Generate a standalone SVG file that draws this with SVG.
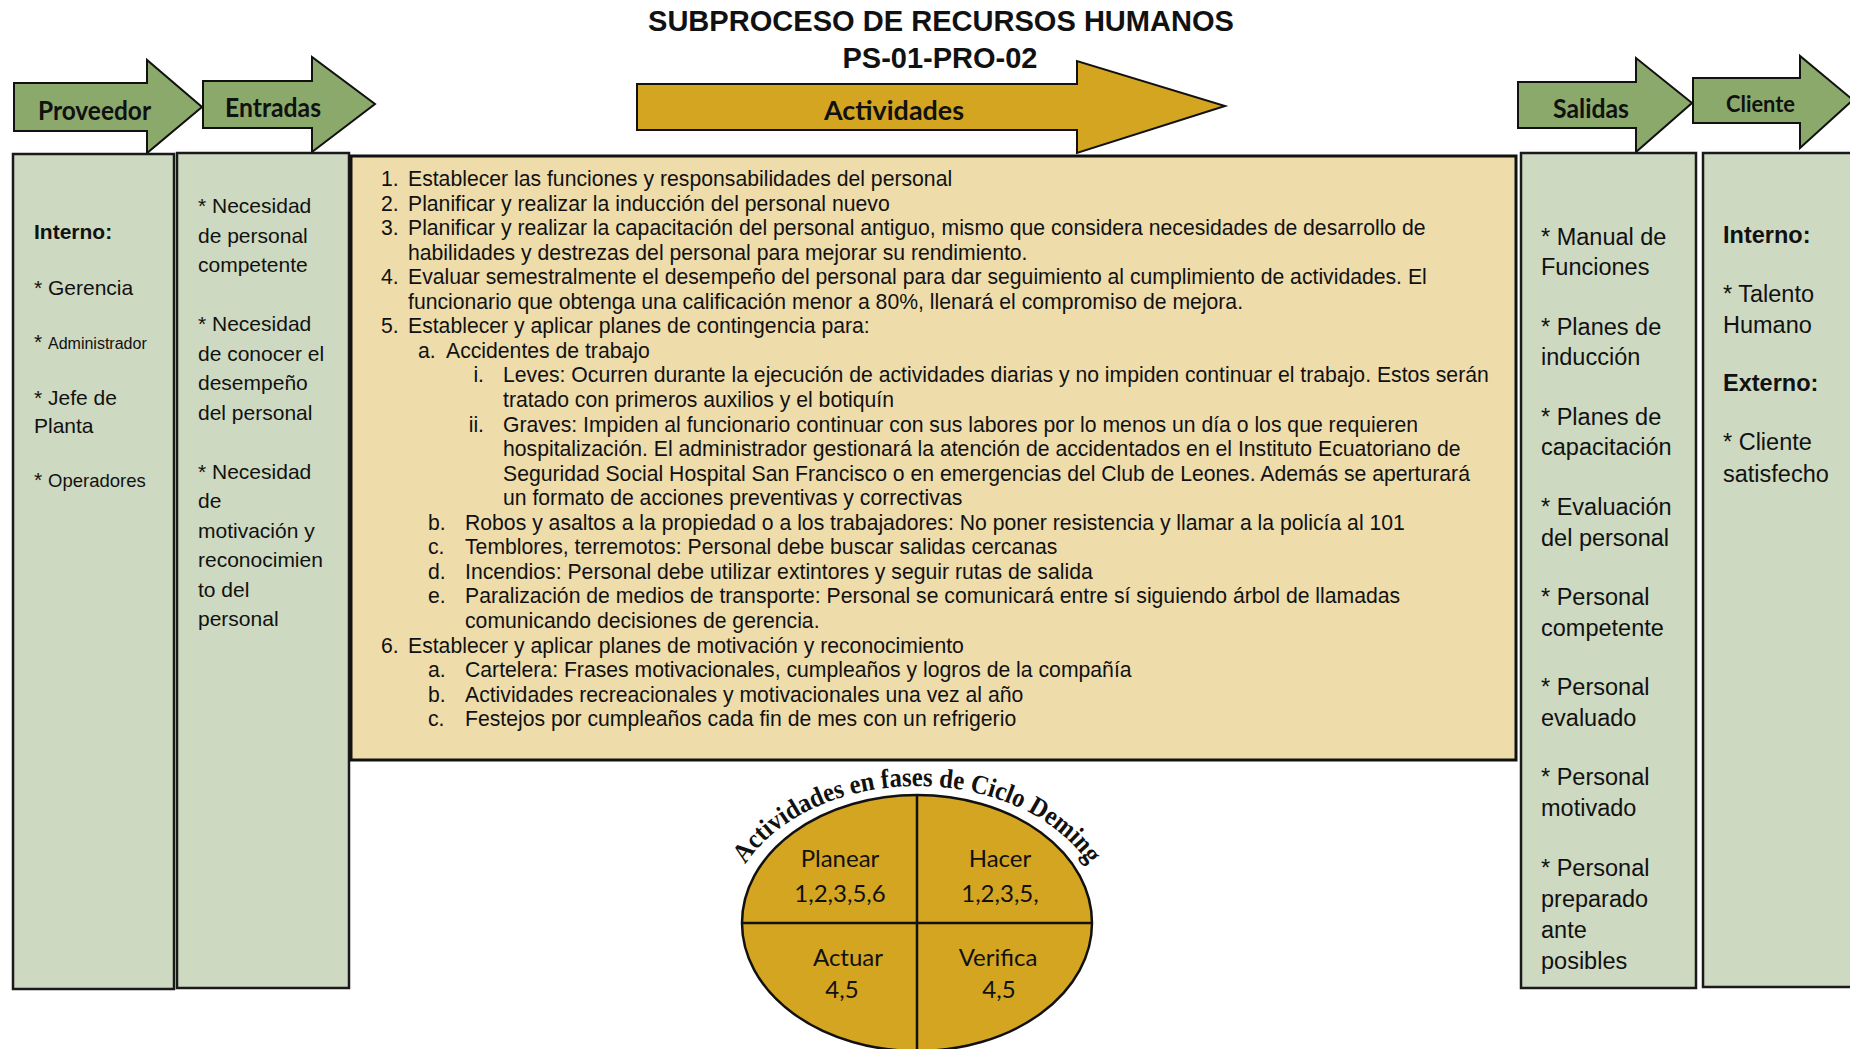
<svg xmlns="http://www.w3.org/2000/svg" width="1850" height="1049" viewBox="0 0 1850 1049">
<defs>
<style>
.arrowG{fill:#8aa96b;stroke:#111;stroke-width:2;stroke-linejoin:miter}
.arrowY{fill:#d4a520;stroke:#111;stroke-width:2}
.box{fill:#cdd9c0;stroke:#1a1a1a;stroke-width:2.5}
.ybox{fill:#eedcab;stroke:#111;stroke-width:3}
.lbl{font-family:Lato,"Liberation Sans",sans-serif;font-weight:bold;fill:#111}
.title{font-family:"Liberation Sans",Arial,sans-serif;font-weight:bold;font-size:29px;fill:#111;text-anchor:middle}
.t21{font-family:"Liberation Sans",Arial,sans-serif;font-size:21px;fill:#111}
.t23{font-family:"Liberation Sans",Arial,sans-serif;font-size:23.5px;fill:#111}
.b{font-weight:bold}
.act{font-family:"Liberation Sans",Arial,sans-serif;font-size:21.2px;fill:#111}
.dem{font-family:Lato,"Liberation Sans",sans-serif;font-size:24px;fill:#111;text-anchor:middle}
.arc{font-family:"Liberation Serif","Times New Roman",serif;font-weight:bold;font-size:27px;fill:#111}
</style>
<path id="arcPath" d="M 744.9 865 A 190 137 0 0 1 1089.1 865"/>
</defs>
<rect width="1850" height="1049" fill="#fff"/>

<g id="title">
<text class="title" x="941" y="31" textLength="586" lengthAdjust="spacingAndGlyphs">SUBPROCESO DE RECURSOS HUMANOS</text>
<text class="title" x="940" y="68">PS-01-PRO-02</text>
</g>

<g id="arrow-proveedor">
<polygon class="arrowG" points="14,83 147,83 147,60 202,107 147,153 147,131 14,131"/>
<text class="lbl" x="38" y="120" font-size="26" textLength="113" lengthAdjust="spacingAndGlyphs">Proveedor</text>
</g>
<g id="arrow-entradas">
<polygon class="arrowG" points="203,81 312,81 312,57 375,104 312,152 312,128 203,128"/>
<text class="lbl" x="225" y="117" font-size="26" textLength="96" lengthAdjust="spacingAndGlyphs">Entradas</text>
</g>
<g id="arrow-actividades">
<polygon class="arrowY" points="637,84 1077,84 1077,61 1225,106 1077,153 1077,130 637,130"/>
<text class="lbl" x="824" y="120" font-size="26" textLength="140" lengthAdjust="spacingAndGlyphs">Actividades</text>
</g>
<g id="arrow-salidas">
<polygon class="arrowG" points="1518,82 1636,82 1636,58 1692,103 1636,152 1636,128 1518,128"/>
<text class="lbl" x="1553" y="118" font-size="26" textLength="76" lengthAdjust="spacingAndGlyphs">Salidas</text>
</g>
<g id="arrow-cliente">
<polygon class="arrowG" points="1693,78 1800,78 1800,56 1853,100 1800,148 1800,123 1693,123"/>
<text class="lbl" x="1726" y="112" font-size="22" textLength="69" lengthAdjust="spacingAndGlyphs">Cliente</text>
</g>

<g id="box-proveedor">
<rect class="box" x="13" y="154" width="161" height="835"/>
<text class="t21 b" x="34" y="239">Interno:</text>
<text class="t21" x="34" y="295">* Gerencia</text>
<text class="t21" x="34" y="349">* <tspan font-size="16">Administrador</tspan></text>
<text class="t21" x="34" y="405">* Jefe de</text>
<text class="t21" x="34" y="433">Planta</text>
<text class="t21" x="34" y="487">* <tspan font-size="18.5">Operadores</tspan></text>
</g>

<g id="box-entradas">
<rect class="box" x="177" y="153" width="172" height="835"/>
<text class="t21" x="198">
<tspan x="198" y="213">* Necesidad</tspan>
<tspan x="198" y="242.5">de personal</tspan>
<tspan x="198" y="272">competente</tspan>
<tspan x="198" y="331">* Necesidad</tspan>
<tspan x="198" y="360.5">de conocer el</tspan>
<tspan x="198" y="390">desempeño</tspan>
<tspan x="198" y="419.5">del personal</tspan>
<tspan x="198" y="478.5">* Necesidad</tspan>
<tspan x="198" y="508">de</tspan>
<tspan x="198" y="537.5">motivación y</tspan>
<tspan x="198" y="567">reconocimien</tspan>
<tspan x="198" y="596.5">to del</tspan>
<tspan x="198" y="626">personal</tspan>
</text>
</g>

<g id="box-actividades">
<rect class="ybox" x="351" y="156" width="1165" height="604"/>
<g class="act">
<text x="381" y="186">1.</text><text x="408" y="186">Establecer las funciones y responsabilidades del personal</text>
<text x="381" y="210.5">2.</text><text x="408" y="210.5">Planificar y realizar la inducción del personal nuevo</text>
<text x="381" y="235">3.</text><text x="408" y="235">Planificar y realizar la capacitación del personal antiguo, mismo que considera necesidades de desarrollo de</text>
<text x="408" y="259.6">habilidades y destrezas del personal para mejorar su rendimiento.</text>
<text x="381" y="284.2">4.</text><text x="408" y="284.2">Evaluar semestralmente el desempeño del personal para dar seguimiento al cumplimiento de actividades. El</text>
<text x="408" y="308.8">funcionario que obtenga una calificación menor a 80%, llenará el compromiso de mejora.</text>
<text x="381" y="333.3">5.</text><text x="408" y="333.3">Establecer y aplicar planes de contingencia para:</text>
<text x="418" y="357.9">a.</text><text x="446" y="357.9">Accidentes de trabajo</text>
<text x="484" y="382.4" text-anchor="end">i.</text><text x="503" y="382.4">Leves: Ocurren durante la ejecución de actividades diarias y no impiden continuar el trabajo. Estos serán</text>
<text x="503" y="407">tratado con primeros auxilios y el botiquín</text>
<text x="484" y="431.5" text-anchor="end">ii.</text><text x="503" y="431.5">Graves: Impiden al funcionario continuar con sus labores por lo menos un día o los que requieren</text>
<text x="503" y="456">hospitalización. El administrador gestionará la atención de accidentados en el Instituto Ecuatoriano de</text>
<text x="503" y="480.6">Seguridad Social Hospital San Francisco o en emergencias del Club de Leones. Además se aperturará</text>
<text x="503" y="505.2">un formato de acciones preventivas y correctivas</text>
<text x="428" y="529.7">b.</text><text x="465" y="529.7">Robos y asaltos a la propiedad o a los trabajadores: No poner resistencia y llamar a la policía al 101</text>
<text x="428" y="554.3">c.</text><text x="465" y="554.3">Temblores, terremotos: Personal debe buscar salidas cercanas</text>
<text x="428" y="578.8">d.</text><text x="465" y="578.8">Incendios: Personal debe utilizar extintores y seguir rutas de salida</text>
<text x="428" y="603.4">e.</text><text x="465" y="603.4">Paralización de medios de transporte: Personal se comunicará entre sí siguiendo árbol de llamadas</text>
<text x="465" y="627.9">comunicando decisiones de gerencia.</text>
<text x="381" y="652.5">6.</text><text x="408" y="652.5">Establecer y aplicar planes de motivación y reconocimiento</text>
<text x="428" y="677">a.</text><text x="465" y="677">Cartelera: Frases motivacionales, cumpleaños y logros de la compañía</text>
<text x="428" y="701.6">b.</text><text x="465" y="701.6">Actividades recreacionales y motivacionales una vez al año</text>
<text x="428" y="726.1">c.</text><text x="465" y="726.1">Festejos por cumpleaños cada fin de mes con un refrigerio</text>
</g>
</g>

<g id="box-salidas">
<rect class="box" x="1521" y="153" width="175" height="835"/>
<text class="t23">
<tspan x="1541" y="245">* Manual de</tspan>
<tspan x="1541" y="275">Funciones</tspan>
<tspan x="1541" y="335">* Planes de</tspan>
<tspan x="1541" y="365">inducción</tspan>
<tspan x="1541" y="425">* Planes de</tspan>
<tspan x="1541" y="455">capacitación</tspan>
<tspan x="1541" y="515">* Evaluación</tspan>
<tspan x="1541" y="546">del personal</tspan>
<tspan x="1541" y="605">* Personal</tspan>
<tspan x="1541" y="636">competente</tspan>
<tspan x="1541" y="695">* Personal</tspan>
<tspan x="1541" y="726">evaluado</tspan>
<tspan x="1541" y="785">* Personal</tspan>
<tspan x="1541" y="816">motivado</tspan>
<tspan x="1541" y="876">* Personal</tspan>
<tspan x="1541" y="907">preparado</tspan>
<tspan x="1541" y="938">ante</tspan>
<tspan x="1541" y="969">posibles</tspan>
</text>
</g>

<g id="box-cliente">
<rect class="box" x="1703" y="153" width="160" height="834"/>
<text class="t23 b" x="1723" y="243">Interno:</text>
<text class="t23" x="1723" y="302">* Talento</text>
<text class="t23" x="1723" y="333">Humano</text>
<text class="t23 b" x="1723" y="391">Externo:</text>
<text class="t23" x="1723" y="450">* Cliente</text>
<text class="t23" x="1723" y="482">satisfecho</text>
</g>

<g id="deming">
<ellipse cx="917" cy="923" rx="175" ry="128" fill="#d4a520" stroke="#111" stroke-width="2.5"/>
<line x1="917" y1="795" x2="917" y2="1051" stroke="#111" stroke-width="2.5"/>
<line x1="742" y1="923" x2="1092" y2="923" stroke="#111" stroke-width="2.5"/>
<text class="dem" x="840" y="867">Planear</text>
<text class="dem" x="840" y="902">1,2,3,5,6</text>
<text class="dem" x="1000" y="867">Hacer</text>
<text class="dem" x="1000" y="902">1,2,3,5,</text>
<text class="dem" x="848" y="966">Actuar</text>
<text class="dem" x="842" y="998">4,5</text>
<text class="dem" x="998" y="966">Verifica</text>
<text class="dem" x="999" y="998">4,5</text>
<text class="arc"><textPath href="#arcPath" startOffset="50%" text-anchor="middle" textLength="392" lengthAdjust="spacingAndGlyphs">Actividades en fases de Ciclo Deming</textPath></text>
</g>
</svg>
